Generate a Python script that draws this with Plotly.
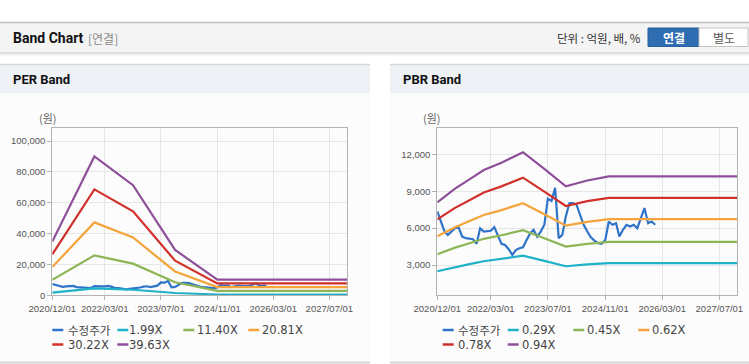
import plotly.graph_objects as go

W, H = 749, 364

# ---------------- data ----------------
price_dates = [
    "2020-12-01", "2021-01-01", "2021-02-01", "2021-03-01", "2021-04-01", "2021-05-01",
    "2021-06-01", "2021-07-01", "2021-08-01", "2021-09-01", "2021-10-01", "2021-11-01",
    "2021-12-01", "2022-01-01", "2022-02-01", "2022-03-01", "2022-04-01", "2022-05-01",
    "2022-06-01", "2022-07-01", "2022-08-01", "2022-09-01", "2022-10-01", "2022-11-01",
    "2022-12-01", "2023-01-01", "2023-02-01", "2023-03-01", "2023-04-01", "2023-05-01",
    "2023-06-01", "2023-07-01", "2023-08-01", "2023-09-01", "2023-10-01", "2023-11-01",
    "2023-12-01", "2024-01-01", "2024-02-01", "2024-03-01", "2024-04-01", "2024-05-01",
    "2024-06-01", "2024-07-01", "2024-08-01", "2024-09-01", "2024-10-01", "2024-11-01",
    "2024-12-01", "2025-01-01", "2025-02-01", "2025-03-01", "2025-04-01", "2025-05-01",
    "2025-06-01", "2025-07-01", "2025-08-01", "2025-09-01", "2025-10-01", "2025-11-01",
    "2025-12-01", "2026-01-01",
]
price = [
    7350, 6540, 5720, 5450, 5720, 6000, 6050, 5310, 5180, 5130, 5100, 4720,
    5990, 5720, 5720, 5780, 6080, 5450, 4720, 4630, 4280, 3820, 4220, 4360,
    4440, 5040, 5590, 5860, 5310, 5720, 6270, 8400, 8200, 9270, 5180, 5450,
    6950, 8040, 8040, 7900, 7090, 6270, 5720, 5260, 4990, 4770, 4720, 5040,
    6540, 6270, 6400, 5310, 5860, 6270, 6130, 6270, 5990, 6815, 7630, 6400,
    6540, 6270,
]

per_dates = ["2020-12-01", "2021-12-01", "2022-11-01", "2023-11-01", "2024-11-01", "2027-12-01"]
per_names = ["1.99X", "11.40X", "20.81X", "30.22X", "39.63X"]
per_1_99 = [1747, 4519, 3582, 1477, 507, 507]
per_11_40 = [10009, 25889, 20520, 8459, 2907, 2907]
per_20_81 = [18271, 47260, 37458, 15441, 5307, 5307]
per_30_22 = [26533, 68630, 54396, 22423, 7706, 7706]
per_39_63 = [34795, 90000, 71334, 29405, 10106, 10106]

pbr_dates = ["2020-12-01", "2021-05-01", "2021-09-01", "2022-01-01", "2022-06-01", "2022-12-01",
             "2023-06-01", "2023-12-01", "2024-06-01", "2024-12-01", "2027-12-01"]
pbr_names = ["0.29X", "0.45X", "0.62X", "0.78X", "0.94X"]
pbr_0_29 = [2494, 2842, 3074, 3306, 3492, 3756, 3335, 2900, 3045, 3147, 3147]
pbr_0_45 = [3870, 4410, 4770, 5130, 5418, 5828, 5175, 4500, 4725, 4883, 4883]
pbr_0_62 = [5332, 6076, 6572, 7068, 7465, 8029, 7130, 6200, 6510, 6727, 6727]
pbr_0_78 = [6708, 7644, 8268, 8892, 9391, 10101, 8970, 7800, 8190, 8463, 8463]
pbr_0_94 = [8084, 9212, 9964, 10716, 11318, 12173, 10810, 9400, 9870, 10199, 10199]

tick_dates = ["2020-12-01", "2022-03-01", "2023-07-01", "2024-11-01", "2026-03-01", "2027-07-01"]
tick_labels = ["2020/12/01", "2022/03/01", "2023/07/01", "2024/11/01", "2026/03/01", "2027/07/01"]
per_yticks = [0, 20000, 40000, 60000, 80000, 100000]
pbr_yticks = [3000, 6000, 9000, 12000]

price_name = "수정주가"
colors = ["#2f74c8", "#1fb1c6", "#8db556", "#f4a43a", "#d2302a", "#8e4f99"]

# ---------------- helpers ----------------
def px(x):
    return x / W

def py(y):
    return 1 - y / H

fig = go.Figure()

lw = 2.2
fig.add_trace(go.Scatter(x=price_dates, y=price, mode="lines", name=price_name,
                         line=dict(color=colors[0], width=lw), xaxis="x", yaxis="y"))
for nm, vals, c in zip(per_names, [per_1_99, per_11_40, per_20_81, per_30_22, per_39_63], colors[1:]):
    fig.add_trace(go.Scatter(x=per_dates, y=vals, mode="lines", name=nm,
                             line=dict(color=c, width=lw), xaxis="x", yaxis="y"))

fig.add_trace(go.Scatter(x=price_dates, y=price, mode="lines", name=price_name,
                         line=dict(color=colors[0], width=lw), xaxis="x2", yaxis="y2"))
for nm, vals, c in zip(pbr_names, [pbr_0_29, pbr_0_45, pbr_0_62, pbr_0_78, pbr_0_94], colors[1:]):
    fig.add_trace(go.Scatter(x=pbr_dates, y=vals, mode="lines", name=nm,
                             line=dict(color=c, width=lw), xaxis="x2", yaxis="y2"))

tick_font = dict(family="Liberation Sans, Arial, sans-serif", size=9.5, color="#555555")
axis_common = dict(showline=True, mirror=True, linecolor="#b3b3b3", linewidth=1,
                   showgrid=True, gridcolor="#e6e6e6", gridwidth=1, zeroline=False,
                   ticks="outside", ticklen=4, tickcolor="#b3b3b3", tickfont=tick_font,
                   automargin=False)

xcommon = dict(type="date", range=["2020-12-01", "2027-12-01"], tickvals=tick_dates,
               ticktext=tick_labels, **axis_common)

fig.update_layout(
    template="none",
    width=W, height=H,
    autosize=False,
    margin=dict(l=0, r=0, t=0, b=0, pad=0, autoexpand=False),
    paper_bgcolor="#ffffff",
    plot_bgcolor="#ffffff",
    showlegend=False,
    xaxis=dict(domain=[px(52.3), px(347)], anchor="y", **xcommon),
    yaxis=dict(domain=[py(295.3), py(128.3)], anchor="x", range=[0, 108230],
               tickvals=per_yticks, tickformat=",", **axis_common),
    xaxis2=dict(domain=[px(437.3), px(737.3)], anchor="y2", **xcommon),
    yaxis2=dict(domain=[py(295.3), py(128.3)], anchor="x2", range=[537, 14114],
                tickvals=pbr_yticks, tickformat=",", **axis_common),
)

shapes = []
def rect(x0, y0, x1, y1, fill, line=None, lwid=0):
    shapes.append(dict(type="rect", xref="paper", yref="paper", x0=px(x0), x1=px(x1),
                       y0=py(y1), y1=py(y0), fillcolor=fill, layer="below",
                       line=dict(color=line or fill, width=lwid)))

def hline(x0, x1, y, color, width=1, layer="below"):
    shapes.append(dict(type="line", xref="paper", yref="paper", x0=px(x0), x1=px(x1),
                       y0=py(y), y1=py(y), line=dict(color=color, width=width), layer=layer))

# top header bar
rect(0, 22, 749, 53, "#f4f4f4")
hline(0, 749, 22.5, "#bdbdbd", 1.5)
hline(0, 749, 53, "#c8c8c8", 1)
hline(0, 749, 54.5, "#ebebeb", 1.5)

# panels
for x0, x1 in [(0, 370), (390, 749)]:
    rect(x0, 93, x1, 362, "#fcfcfc")
    rect(x0, 65, x1, 93, "#eef2f7")
    hline(x0, x1, 64.5, "#d6d6d6", 1.5)
    hline(x0, x1, 362.5, "#d6d6d6", 2)

# buttons
shapes.append(dict(type="rect", xref="paper", yref="paper", x0=px(648), x1=px(699),
                   y0=py(46.5), y1=py(28), fillcolor="#2f6db3", line=dict(color="#285f9e", width=1)))
shapes.append(dict(type="rect", xref="paper", yref="paper", x0=px(699), x1=px(748),
                   y0=py(46.5), y1=py(28), fillcolor="#ffffff", line=dict(color="#c4c4c4", width=1)))

annotations = []
def text(x, y, s, size, color, family, xanchor="left", bold=False):
    if bold:
        s = "<b>" + s + "</b>"
    annotations.append(dict(xref="paper", yref="paper", x=px(x), y=py(y), text=s,
                            showarrow=False, xanchor=xanchor, yanchor="middle",
                            font=dict(size=size, color=color, family=family)))

KR = "Noto Sans CJK KR, sans-serif"
RB = "Roboto, Liberation Sans, sans-serif"
LAT = "DejaVu Sans, sans-serif"

text(10.5, 38.5, "Band Chart", 14, "#111111", RB, bold=True)
text(86, 38.5, "[연결]", 12, "#8a8a8a", KR)
text(643, 38.5, "단위 : 억원, 배, %", 11.5, "#333333", KR, xanchor="right")
text(673.5, 37.5, "연결", 12, "#ffffff", KR, xanchor="center", bold=True)
text(723.5, 37.5, "별도", 12, "#555555", KR, xanchor="center")

text(10.5, 79.5, "PER Band", 13, "#111111", RB, bold=True)
text(400.5, 79.5, "PBR Band", 13, "#111111", RB, bold=True)

text(48, 118, "(원)", 11, "#666666", KR, xanchor="center")
text(432, 118, "(원)", 11, "#666666", KR, xanchor="center")

# legends
def legend(items):
    for (mx, my, tx, label, color) in items:
        hline(mx, mx + 11, my, color, 2.5, layer="above")
        if label == price_name:
            text(tx, my, label, 11.5, "#444444", KR)
        else:
            text(tx, my, label, 11.5, "#444444", LAT)

per_labels = [price_name] + per_names
pbr_labels = [price_name] + pbr_names
per_pos = [(52.3, 330, 65.5), (117.3, 330, 127), (183.3, 330, 195), (248.3, 330, 259.5),
           (52.3, 344.5, 65.5), (117.3, 344.5, 127)]
pbr_pos = [(442.7, 330, 455.5), (507.7, 330, 519.5), (573.3, 330, 585), (638.3, 330, 649.5),
           (442.7, 344.5, 455.5), (507.7, 344.5, 519.5)]
legend([(p[0], p[1], p[2], l, c) for p, l, c in zip(per_pos, per_labels, colors)])
legend([(p[0], p[1], p[2], l, c) for p, l, c in zip(pbr_pos, pbr_labels, colors)])

fig.update_layout(shapes=shapes, annotations=annotations)
fig.write_html("out.html",
               config={"displayModeBar": False},
               post_script="document.body.style.margin='0px';document.body.style.padding='0px';"
                           "document.body.style.overflow='hidden';")
